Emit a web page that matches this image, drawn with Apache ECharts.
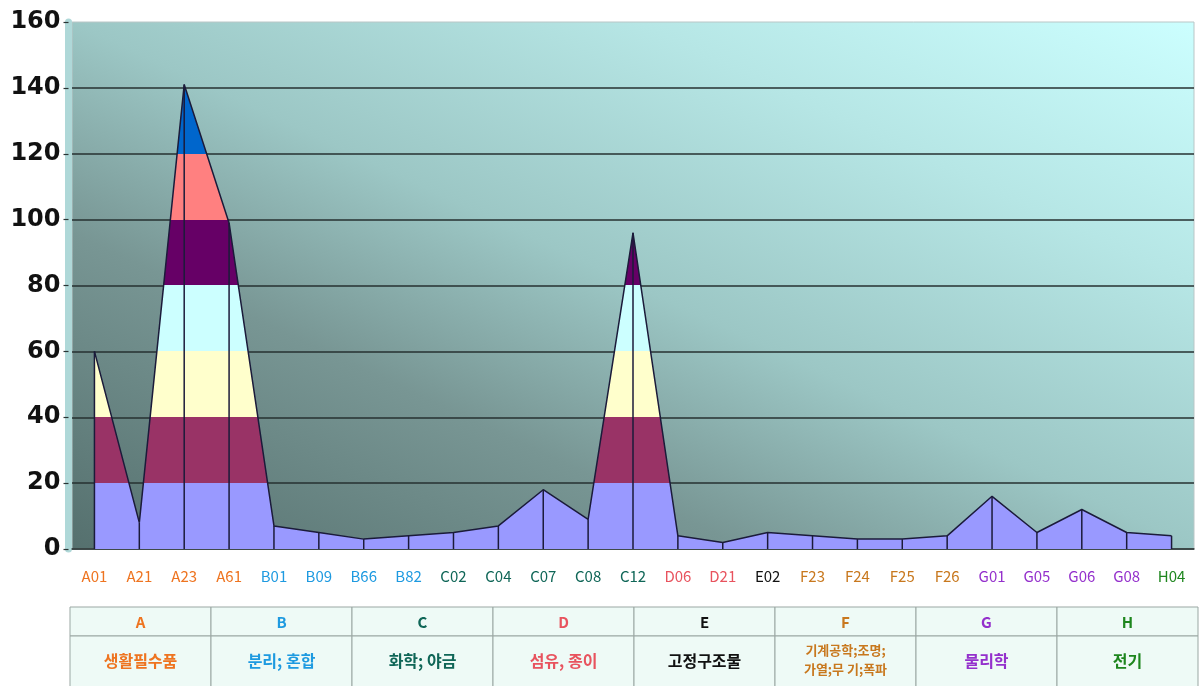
<!DOCTYPE html>
<html>
<head>
<meta charset="utf-8">
<script src="https://cdn.jsdelivr.net/npm/echarts@6/dist/echarts.min.js"></script>
<style>
  html, body { margin: 0; padding: 0; background: #ffffff; }
  #chart { width: 1204px; height: 686px; }
</style>
</head>
<body>
<div id="chart"></div>
<script>
// IPC subclass codes along the x axis
const categories = ['A01', 'A21', 'A23', 'A61', 'B01', 'B09', 'B66', 'B82', 'C02', 'C04', 'C07', 'C08', 'C12',
  'D06', 'D21', 'E02', 'F23', 'F24', 'F25', 'F26', 'G01', 'G05', 'G06', 'G08', 'H04'];

// count per subclass
const counts = [60, 8, 141, 99, 7, 5, 3, 4, 5, 7, 18, 9, 96, 4, 2, 5, 4, 3, 3, 4, 16, 5, 12, 5, 4];

// value axis
const yMin = 0;
const yMax = 160;
const yStep = 20;

// fill colour of each 20-unit band, from the bottom up
const bandColors = ['#9999FF', '#993366', '#FFFFCC', '#CCFFFF', '#660066', '#FF8080', '#0066CC', '#CCCCFF'];

// IPC sections shown in the key table
const sectionCodes = ['A', 'B', 'C', 'D', 'E', 'F', 'G', 'H'];
const sectionNames = ['생활필수품', '분리; 혼합', '화학; 야금', '섬유, 종이', '고정구조물',
  '기계공학;조명;\n가열;무 기;폭파', '물리학', '전기'];
const sectionColors = ['#EE7420', '#1E9AE0', '#0F6657', '#E8535E', '#111111', '#C8781E', '#9430CC', '#1E861E'];

const colorOfCode = code => sectionColors[sectionCodes.indexOf(code.charAt(0))];

const chart = echarts.init(document.getElementById('chart'), null, { renderer: 'canvas' });

const pieces = bandColors.map((c, i) => ({ gte: yMin + i * yStep, lt: yMin + (i + 1) * yStep, color: c }));

// key table under the chart
const tableLeft = 70, colW = 141, rowTop = 607, headH = 29, bodyH = 52;
const tableEls = [];
sectionCodes.forEach((code, i) => {
  const x = tableLeft + i * colW;
  tableEls.push({
    type: 'rect', shape: { x: x, y: rowTop, width: colW, height: headH },
    style: { fill: '#EEFAF6', stroke: '#9AA7A3', lineWidth: 1 }
  });
  tableEls.push({
    type: 'rect', shape: { x: x, y: rowTop + headH, width: colW, height: bodyH },
    style: { fill: '#EEFAF6', stroke: '#9AA7A3', lineWidth: 1 }
  });
  tableEls.push({
    type: 'text', x: x + colW / 2, y: rowTop + headH / 2 + 1,
    style: { text: code, fill: sectionColors[i], font: 'bold 15px "Noto Sans CJK KR", sans-serif',
      align: 'center', verticalAlign: 'middle' }
  });
  const twoLine = sectionNames[i].indexOf('\n') >= 0;
  tableEls.push({
    type: 'text', x: x + colW / 2, y: rowTop + headH + (twoLine ? 24 : 25),
    style: { text: sectionNames[i], fill: sectionColors[i],
      font: (twoLine ? 'bold 13px' : 'bold 16px') + ' "Noto Sans CJK KR", sans-serif',
      lineHeight: twoLine ? 19 : 20, align: 'center', verticalAlign: 'middle' }
  });
});

const option = {
  animation: false,
  backgroundColor: '#ffffff',
  grid: {
    left: 72, right: 10, top: 22, bottom: 137,
    show: true,
    borderColor: '#B9C6C6', borderWidth: 1,
    // wall shading: dark in the lower-left corner, pale cyan in the upper-right
    backgroundColor: {
      type: 'linear', x: 0, y: 1, x2: 0.36, y2: -0.64,
      colorStops: [
        { offset: 0, color: '#55706E' },
        { offset: 0.3, color: '#789694' },
        { offset: 0.5, color: '#9CC7C5' },
        { offset: 0.75, color: '#B6E6E5' },
        { offset: 1, color: '#CCFFFF' }
      ]
    }
  },
  visualMap: {
    type: 'piecewise', show: false, seriesIndex: 0, dimension: 1,
    pieces: pieces
  },
  xAxis: {
    type: 'category',
    data: categories,
    boundaryGap: true,
    axisLine: { show: true, lineStyle: { color: '#3A4444', width: 1.5 } },
    axisTick: { show: false },
    splitLine: { show: false },
    axisLabel: {
      interval: 0, margin: 20,
      fontFamily: '"Noto Sans CJK KR", sans-serif', fontSize: 15,
      color: (value) => colorOfCode(value)
    }
  },
  yAxis: {
    type: 'value',
    min: yMin, max: yMax, interval: yStep,
    offset: 3.5,
    axisLine: { show: true, lineStyle: { color: '#AFD8D8', width: 7 } },
    axisTick: { show: true, length: 5, lineStyle: { color: '#2A3434', width: 1.2 } },
    splitLine: { show: true, showMaxLine: false, lineStyle: { color: '#263030', width: 1.5 } },
    axisLabel: {
      margin: 8,
      fontFamily: '"DejaVu Sans", Verdana, sans-serif', fontWeight: 'bold', fontSize: 24, color: '#111111'
    }
  },
  series: [
    {
      // banded surface
      type: 'line',
      data: counts,
      symbol: 'none',
      lineStyle: { width: 0 },
      areaStyle: { opacity: 1 },
      z: 2
    },
    {
      // drop line under every point
      type: 'bar',
      data: counts,
      barWidth: 1.5,
      itemStyle: { color: '#1B1B3A' },
      z: 3
    },
    {
      // outline of the surface
      type: 'line',
      data: counts,
      symbol: 'none',
      lineStyle: { color: '#1B1B3A', width: 1.5 },
      z: 4
    }
  ],
  graphic: tableEls
};

chart.setOption(option);
</script>
</body>
</html>
